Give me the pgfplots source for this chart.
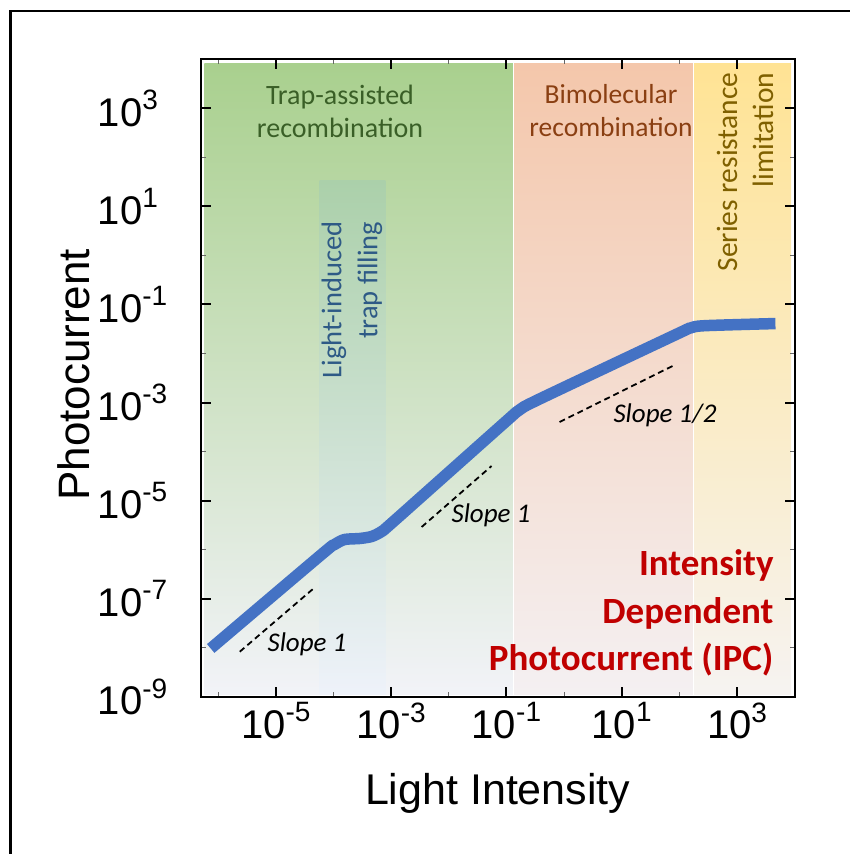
\documentclass[border=0pt]{standalone}
\usepackage{pgfplots}
\pgfplotsset{compat=1.18}
\usepackage{fontspec}
\setmainfont{Liberation Sans}
\newfontfamily\calib{Carlito}
\definecolor{curveblue}{HTML}{4472C4}
\definecolor{gTop}{HTML}{A9D08E}
\definecolor{gMid}{HTML}{C6DFB8}
\definecolor{gBot}{HTML}{F2F3F8}
\definecolor{sTop}{HTML}{F4C7AB}
\definecolor{sMid}{HTML}{F6D9CB}
\definecolor{sBot}{HTML}{F4F0F2}
\definecolor{yTop}{HTML}{FFE394}
\definecolor{yMid}{HTML}{FCEBC2}
\definecolor{yBot}{HTML}{F6F3F1}
\definecolor{bTop}{HTML}{ABD0AA}
\definecolor{bMid}{HTML}{BDD5EC}
\definecolor{bBot}{HTML}{EEF2FA}
\definecolor{txtgreen}{HTML}{3A5F27}
\definecolor{txtbrown}{HTML}{8A3F12}
\definecolor{txtolive}{HTML}{7F6000}
\definecolor{txtblue}{HTML}{2E5A86}
\definecolor{ipcred}{HTML}{C00000}
\newcommand\tk[1]{10\raisebox{0.42em}{\fontsize{28}{28}\selectfont #1}}
\begin{document}
\begin{tikzpicture}
\useasboundingbox (0pt,0pt) rectangle (850pt,-854pt);
\draw[line width=2.4pt] (10.5pt,-11pt) rectangle (900pt,-900pt);
\begin{axis}[
  at={(200.7pt,-697pt)}, anchor=south west,
  scale only axis, width=594pt, height=638pt,
  xmode=log, ymode=log,
  xmin=5e-7, xmax=1e4, ymin=1e-9, ymax=1e4,
  axis on top,
  axis line style={line width=2.2pt},
  tick align=inside,
  major tick length=10pt, minor tick length=5pt,
  every major tick/.style={line width=2pt, black},
  every minor tick/.style={line width=1pt, black!60},
  xtick={1e-5,1e-3,1e-1,1e1,1e3},
  xticklabels={\tk{-5},\tk{-3},\tk{-1},\tk{1},\tk{3}},
  minor xtick={1e-6,1e-4,1e-2,1,1e2,1e4},
  ytick={1e-9,1e-7,1e-5,1e-3,1e-1,1e1,1e3},
  yticklabels={\tk{-9},\tk{-7},\tk{-5},\tk{-3},\tk{-1},\tk{1},\tk{3}},
  minor ytick={1e-8,1e-6,1e-4,1e-2,1,1e2,1e4},
  tick label style={font=\fontsize{40}{43}\selectfont},
  xticklabel style={yshift=-2pt},
  yticklabel style={anchor=west, inner sep=0pt, xshift=-103pt},
  xlabel={Light Intensity},
  ylabel={Photocurrent},
  every axis x label/.style={at={(axis description cs:0.5,-0.169)}, anchor=base, font=\fontsize{43}{46}\selectfont},
  every axis y label/.style={at={(axis description cs:-0.188,0.505)}, anchor=base, rotate=90, font=\fontsize{44}{46}\selectfont},
]
% shaded regions
\shade[top color=gTop, middle color=gMid, bottom color=gBot] (axis cs:5.80e-7,1.10e-9) rectangle (axis cs:0.1334,8.28e3);
\shade[top color=sTop, middle color=sMid, bottom color=sBot] (axis cs:0.1334,1.10e-9) rectangle (axis cs:175.4,8.28e3);
\shade[top color=yTop, middle color=yMid, bottom color=yBot] (axis cs:175.4,1.10e-9) rectangle (axis cs:8.63e3,8.28e3);
\shade[top color=bTop, middle color=bMid, bottom color=bBot] (axis cs:5.79e-5,1.10e-9) rectangle (axis cs:7.96e-4,33.9);
\draw[white, line width=1.5pt] (axis cs:0.1334,1.10e-9) -- (axis cs:0.1334,8.28e3);
\draw[white, line width=1.5pt] (axis cs:175.4,1.10e-9) -- (axis cs:175.4,8.28e3);
% slope guides
\addplot[black, line width=1.8pt, dash pattern=on 6pt off 4pt] coordinates {(2.38e-6,8.38e-9) (4.56e-5,1.64e-7)};
\addplot[black, line width=1.8pt, dash pattern=on 6pt off 4pt] coordinates {(3.39e-3,2.91e-6) (5.53e-2,5.09e-5)};
\addplot[black, line width=1.8pt, dash pattern=on 6pt off 4pt] coordinates {(0.836,4.01e-4) (82.2,5.81e-3)};
% photocurrent curve
\addplot[curveblue, line width=11.5pt, line join=round, line cap=butt, smooth, tension=0.45] coordinates {
(7.46e-7,9.75e-9)
(6.53e-5,8.41e-7)
(1.054e-4,1.285e-6)
(1.57e-4,1.622e-6)
(2.86e-4,1.698e-6)
(4.61e-4,1.866e-6)
(6.87e-4,2.36e-6)
(1.153e-3,3.95e-6)
(9.31e-2,3.90e-4)
(0.1694,7.1e-4)
(0.376,1.18e-3)
(95,2.55e-2)
(155,3.3e-2)
(272,3.68e-2)
(4630,4.07e-2)
};
\end{axis}
% region labels
\node[align=center, text=txtgreen, font=\calib\fontsize{28}{33}\selectfont] at (340pt,-111pt) {Trap-assisted\\recombination};
\node[align=center, text=txtbrown, font=\calib\fontsize{27.5}{33}\selectfont] at (611pt,-111pt) {Bimolecular\\recombination};
\node[align=right, rotate=90, text=txtblue, font=\calib\fontsize{28.5}{36}\selectfont] at (352pt,-300pt) {Light-induced\\trap filling};
\node[align=right, rotate=90, text=txtolive, font=\calib\fontsize{29.5}{36}\selectfont] at (745pt,-172pt) {Series resistance\\limitation};
\node[align=right, anchor=east, text=ipcred, font=\calib\bfseries\fontsize{37}{47.5}\selectfont] at (777pt,-613pt) {Intensity\\Dependent\\Photocurrent (IPC)};
% slope labels
\node[font=\calib\itshape\fontsize{27}{30}\selectfont] at (307pt,-644pt) {Slope 1};
\node[font=\calib\itshape\fontsize{27}{30}\selectfont] at (491pt,-515pt) {Slope 1};
\node[font=\calib\itshape\fontsize{27}{30}\selectfont] at (665pt,-415pt) {Slope 1/2};
\end{tikzpicture}
\end{document}
